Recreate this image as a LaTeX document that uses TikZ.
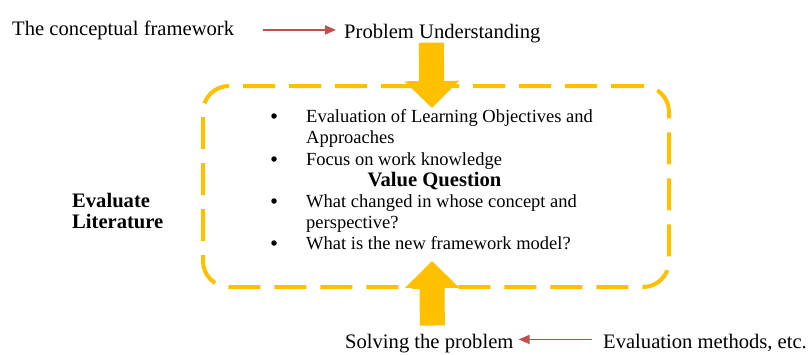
\documentclass[tikz,border=0pt]{standalone}
\usepackage{fontspec}
\setmainfont{Liberation Serif}
\usetikzlibrary{arrows.meta,positioning}
\definecolor{boxyellow}{HTML}{FFC000}
\definecolor{linkred}{HTML}{C0504D}

\begin{document}
\begin{tikzpicture}[x=1pt,y=-1pt]
\tikzset{
  plaintext/.style={inner sep=0pt,font=\fontsize{20.6}{21}\selectfont},
  boldtext/.style={plaintext,font=\fontsize{20.6}{21}\selectfont\bfseries},
  listitem/.style={inner sep=0pt,font=\fontsize{18.5}{21}\selectfont,align=left,anchor=base west},
  bulletmark/.style={circle,fill=black,inner sep=0pt,minimum size=5.5pt},
  valueframe/.style={draw=boxyellow,line width=4pt,dash pattern=on 32pt off 14pt,
    rounded corners=26pt,outer sep=0pt,minimum width=466pt,minimum height=201pt},
  blockarrow/.style={draw=boxyellow,line width=25pt,-{Triangle[length=27pt,width=53pt]}},
  redlink/.style={draw=linkred,line width=1.8pt,-{Triangle[length=11pt,width=9pt]}}
}
\useasboundingbox (0,0) rectangle (809,354);
% top and bottom labels
\node[plaintext,anchor=base west] (n_frame) at (12,35) {The conceptual framework};
\node[plaintext,anchor=base west] (n_problem) at (344,38) {Problem Understanding};
\node[plaintext,anchor=base west] (n_solve) at (345,348) {Solving the problem};
\node[plaintext,anchor=base west] (n_methods) at (603,348) {Evaluation methods, etc.};
% multi-line nodes sit on the baseline of their last line
\node[boldtext,align=left,anchor=base west] (n_lit) at (72,228) {Evaluate\\Literature};
% dashed frame with its list
\node[valueframe] (n_box) at (436,186.5) {};
\node[bulletmark] (n_b1) at (274,116) {};
\node[bulletmark] (n_b2) at (274,159) {};
\node[bulletmark] (n_b3) at (274,201) {};
\node[bulletmark] (n_b4) at (274,243) {};
\node[listitem] (n_i1) at (306,143) {Evaluation of Learning Objectives and\\Approaches};
\node[listitem] (n_i2) at (306,165) {Focus on work knowledge};
\node[boldtext,anchor=base] (n_value) at (434.5,186) {Value Question};
\node[listitem] (n_i3) at (306,228) {What changed in whose concept and\\perspective?};
\node[listitem] (n_i4) at (306,249) {What is the new framework model?};
% arrows
\draw[redlink] ([xshift=29pt]n_frame.east) -- ([xshift=-8pt]n_frame.east -| n_problem.west);
\draw[redlink] ([xshift=-11pt,yshift=3pt]n_methods.west) -- ([xshift=5pt,yshift=3pt]n_methods.west -| n_solve.east);
\draw[blockarrow] ([xshift=-11pt]n_problem.south) -- ([xshift=-4pt,yshift=-22pt]n_box.north);
\draw[blockarrow] ([xshift=3pt,yshift=8pt]n_solve.north) -- ([xshift=-4pt,yshift=26pt]n_box.south);
\end{tikzpicture}
\end{document}
